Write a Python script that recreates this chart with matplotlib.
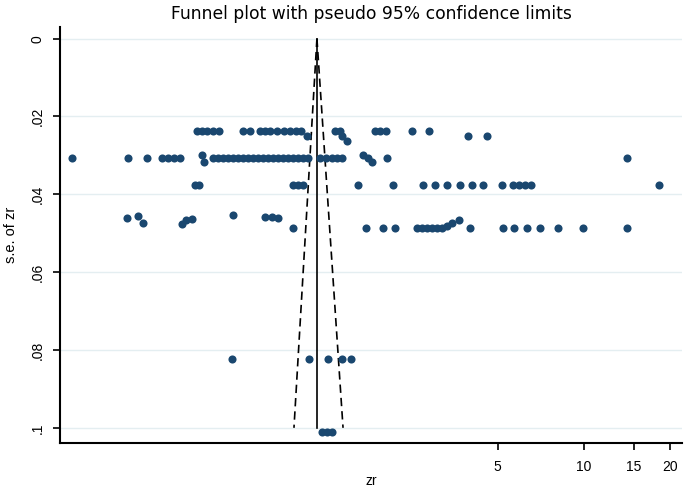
import numpy as np
import matplotlib.pyplot as plt

plt.rcParams['font.family'] = ['Liberation Sans', 'DejaVu Sans']

# study effect sizes (zr) and their standard errors, grouped by s.e. level
se_a = 0.0237
zr_a = [0.444, 0.463, 0.482, 0.505, 0.530, 0.643, 0.681, 0.738, 0.768, 0.800,
        0.846, 0.895, 0.939, 0.986, 1.026, 1.349, 1.405, 1.862, 1.939, 2.034,
        2.507, 2.876]
se_a2 = 0.0250
zr_a2 = [1.077, 1.430, 3.937, 4.586]

se_b = 0.0307
zr_b = [0.162, 0.255, 0.297, 0.335, 0.352, 0.369, 0.387, 0.505, 0.526, 0.548,
        0.570, 0.594, 0.618, 0.643, 0.670, 0.697, 0.726, 0.756, 0.787, 0.819,
        0.853, 0.888, 0.924, 0.962, 1.002, 1.043, 1.086, 1.196, 1.255, 1.317,
        1.371, 1.427, 1.760, 2.051, 14.16]

se_c = 0.0376
zr_c = [0.437, 0.452, 0.962, 1.002, 1.043, 1.623, 2.152, 2.741, 3.019, 3.324,
        3.692, 4.066, 4.442, 5.176, 5.655, 5.934, 6.228, 6.537, 18.32]

se_d = 0.0487
zr_d = [0.962, 1.732, 1.986, 2.188, 2.611, 2.719, 2.830, 2.947, 3.067, 3.193,
        4.001, 5.218, 5.702, 6.329, 7.029, 8.124, 9.937, 14.16]

se_e = 0.0823
zr_e = [0.589, 1.094, 1.275, 1.427, 1.535]

se_f = 0.1010
zr_f = [1.215, 1.265, 1.317]

# points that sit a little off the main rows
zr_misc = [1.490, 0.462, 0.470, 1.690, 1.817,
           0.253, 0.276, 0.288, 0.394, 0.407, 0.427, 0.594, 0.768, 0.813, 0.853,
           3.324, 3.461, 3.662]
se_misc = [0.0262, 0.0298, 0.0316, 0.0299, 0.0317,
           0.0461, 0.0456, 0.0474, 0.0476, 0.0466, 0.0463, 0.0453, 0.0458, 0.0458, 0.0461,
           0.0482, 0.0474, 0.0466]

# pseudo 95% confidence limits
center_zr = 1.167
funnel_se = [0, 0.1]
funnel_lo = [1.167, 0.97]
funnel_hi = [1.167, 1.44]

groups = [(zr_a, se_a), (zr_a2, se_a2), (zr_b, se_b), (zr_c, se_c),
          (zr_d, se_d), (zr_e, se_e), (zr_f, se_f)]
xs, ys = [], []
for zr, se in groups:
    xs += zr
    ys += [se] * len(zr)
xs += zr_misc
ys += se_misc

fig = plt.figure(figsize=(6.85, 4.88), dpi=100)
ax = fig.add_axes([0.0876, 0.0922, 0.908, 0.8525])

ax.scatter(xs, ys, s=34, color='#1a476f', zorder=3, linewidths=0)
ax.plot([center_zr, center_zr], funnel_se, color='black', lw=1.2, zorder=2)
ax.plot(funnel_lo, funnel_se, color='black', lw=1.2, ls=(0, (5, 3)), zorder=2)
ax.plot(funnel_hi, funnel_se, color='black', lw=1.2, ls=(0, (5, 3)), zorder=2)

ax.set_xscale('log')
ax.set_xlim(0.1475, 22.05)
ax.set_ylim(0.1039, -0.0030)
ax.set_xticks([5, 10, 15, 20])
ax.set_xticklabels(['5', '10', '15', '20'])
ax.xaxis.set_minor_locator(plt.NullLocator())
ax.set_yticks([0, 0.02, 0.04, 0.06, 0.08, 0.1])
ax.set_yticklabels(['0', '.02', '.04', '.06', '.08', '.1'], rotation=90, va='center')
ax.tick_params(labelsize=10, length=5, width=1.2, color='black')
ax.tick_params(axis='x', pad=7)
ax.tick_params(axis='y', pad=6)
ax.grid(axis='y', color='#e4eef1', lw=1)
ax.set_axisbelow(True)
for side in ['top', 'right']:
    ax.spines[side].set_visible(False)
for side in ['left', 'bottom']:
    ax.spines[side].set_linewidth(1.5)

ax.set_xlabel('zr', fontsize=10, labelpad=0)
ax.set_ylabel('s.e. of zr', fontsize=10.5, labelpad=9)
ax.set_title('Funnel plot with pseudo 95% confidence limits', fontsize=12.3,
             pad=6, family='DejaVu Sans')

fig.savefig('out.png', dpi=100)
